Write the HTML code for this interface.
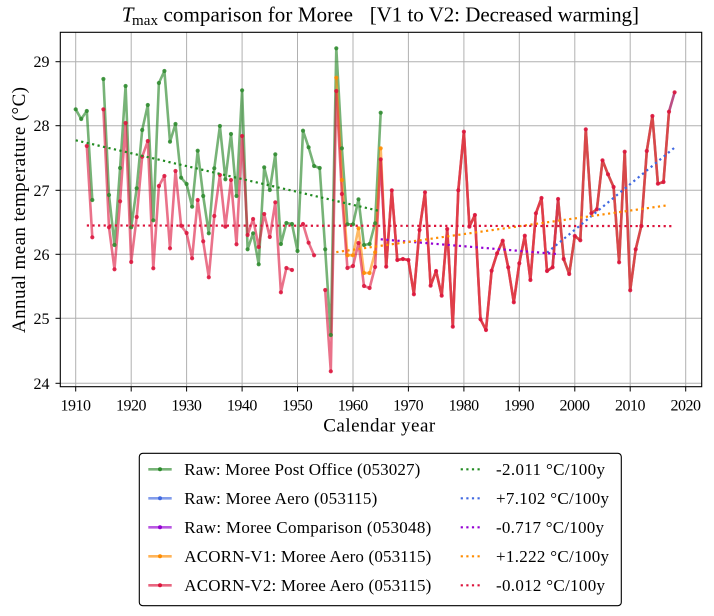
<!DOCTYPE html>
<html><head><meta charset="utf-8"><style>
html,body{margin:0;padding:0;background:#fff;}
svg{display:block;}
text{font-family:"Liberation Serif","DejaVu Serif",serif;fill:#000;}
</style></head><body>
<svg width="714" height="616" viewBox="0 0 714 616" xmlns="http://www.w3.org/2000/svg">
<rect width="714" height="616" fill="#fff"/>
<!-- grid -->
<g stroke="#b0b0b0" stroke-width="1">
<line x1="75.7" y1="32.3" x2="75.7" y2="386.7"/>
<line x1="131.2" y1="32.3" x2="131.2" y2="386.7"/>
<line x1="186.6" y1="32.3" x2="186.6" y2="386.7"/>
<line x1="242.1" y1="32.3" x2="242.1" y2="386.7"/>
<line x1="297.5" y1="32.3" x2="297.5" y2="386.7"/>
<line x1="353" y1="32.3" x2="353" y2="386.7"/>
<line x1="408.4" y1="32.3" x2="408.4" y2="386.7"/>
<line x1="463.9" y1="32.3" x2="463.9" y2="386.7"/>
<line x1="519.3" y1="32.3" x2="519.3" y2="386.7"/>
<line x1="574.8" y1="32.3" x2="574.8" y2="386.7"/>
<line x1="630.2" y1="32.3" x2="630.2" y2="386.7"/>
<line x1="685.7" y1="32.3" x2="685.7" y2="386.7"/>
<line x1="60.3" y1="61.7" x2="701.7" y2="61.7"/>
<line x1="60.3" y1="125.7" x2="701.7" y2="125.7"/>
<line x1="60.3" y1="190.3" x2="701.7" y2="190.3"/>
<line x1="60.3" y1="254.3" x2="701.7" y2="254.3"/>
<line x1="60.3" y1="318.3" x2="701.7" y2="318.3"/>
<line x1="60.3" y1="383.3" x2="701.7" y2="383.3"/>
</g>

<!-- series -->
<g fill="none" stroke-width="2.6" stroke-linejoin="round" stroke-linecap="round">
<g stroke="#2e8b2e" stroke-opacity="0.65">
<polyline points="75.7,109.3 81.2,119 86.8,111 92.3,200"/>
<polyline points="103.4,79 109,195 114.5,245 120.1,168 125.6,86 131.2,227.3 136.7,188.3 142.2,130 147.8,105 153.3,220.3 158.9,83 164.4,71 170,141.7 175.5,124 181.1,177.7 186.6,184 192.1,206.7 197.7,150.7 203.2,196 208.8,233.3 214.3,168.3 219.9,126 225.4,179.3 231,134 236.5,196 242.1,90.3 247.6,249.3 253.1,233.3 258.7,264.3 264.2,167.3 269.8,190 275.3,154.3 280.9,244 286.4,223 292,224 297.5,251 303,130.7 308.6,147.3 314.1,166 319.7,168 325.2,249.3 330.8,335 336.3,48.3 341.9,148.3 347.4,224.3 353,224.3 358.5,199.3 364,245 369.6,244 375.1,223.3 380.7,112.7"/>
</g>
<polyline stroke="#4169e1" stroke-opacity="0.6" points="547,271 552.6,267.3 558.1,199 563.7,259 569.2,274 574.8,236 580.3,240.3 585.8,129.3 591.4,213.3 596.9,209.3 602.5,160.3 608,174.3 613.6,187 619.1,262.3 624.7,151.7 630.2,290.3 635.7,249.3 641.3,226 646.8,151 652.4,116 657.9,183.7 663.5,182 669,111.7 674.6,92.3"/>
<polyline stroke="#9400d3" stroke-opacity="0.6" points="380.7,159.3 386.2,266.7 391.8,190.3 397.3,260 402.9,259 408.4,260 413.9,294.3 419.5,230 425,192.3 430.6,285.7 436.1,271 441.7,295.7 447.2,229 452.8,326.7 458.3,190.3 463.9,131.7 469.4,226.7 474.9,215 480.5,319.3 486,330 491.6,270.7 497.1,253.3 502.7,240.7 508.2,267.3 513.8,302.3 519.3,263.3 524.8,235.7 530.4,280 535.9,213.3 541.5,198 547,271 552.6,267.3 558.1,199"/>
<polyline stroke="#ff8c00" stroke-opacity="0.6" points="336.3,77.7 341.9,180 347.4,255.3 353,255.3 358.5,228.3 364,273 369.6,273 375.1,252.3 380.7,148.3 386.2,266.7 391.8,190.3 397.3,260 402.9,259 408.4,260 413.9,294.3 419.5,230 425,192.3 430.6,285.7 436.1,271 441.7,295.7 447.2,229 452.8,326.7 458.3,190.3 463.9,131.7 469.4,226.7 474.9,215 480.5,319.3 486,330 491.6,270.7 497.1,253.3 502.7,240.7 508.2,267.3 513.8,302.3 519.3,263.3 524.8,235.7 530.4,280 535.9,213.3 541.5,198 547,271 552.6,267.3 558.1,199 563.7,259 569.2,274 574.8,236 580.3,240.3 585.8,129.3 591.4,213.3 596.9,209.3 602.5,160.3 608,174.3 613.6,187 619.1,262.3 624.7,151.7 630.2,290.3 635.7,249.3 641.3,226 646.8,151 652.4,116 657.9,183.7 663.5,182 669,111.7"/>
<g stroke="#dc143c" stroke-opacity="0.6">
<polyline points="86.8,146 92.3,237.3"/>
<polyline points="103.4,109.3 109,227.3 114.5,269.3 120.1,201.3 125.6,123 131.2,262 136.7,217 142.2,156.7 147.8,141 153.3,268.3 158.9,186 164.4,176 170,248.3 175.5,171 181.1,225.7 186.6,233 192.1,258.3 197.7,200 203.2,241.3 208.8,277.3 214.3,216 219.9,175 225.4,226.7 231,180 236.5,244.3 242.1,136 247.6,235 253.1,219 258.7,247 264.2,214 269.8,237 275.3,202.3 280.9,292.3 286.4,268 292,270"/>
<polyline points="303,224 308.6,242.7 314.1,255.3"/>
<polyline points="325.2,290 330.8,371.3 336.3,91 341.9,194 347.4,268 353,266 358.5,243 364,286 369.6,288 375.1,267 380.7,159.3 386.2,266.7 391.8,190.3 397.3,260 402.9,259 408.4,260 413.9,294.3 419.5,230 425,192.3 430.6,285.7 436.1,271 441.7,295.7 447.2,229 452.8,326.7 458.3,190.3 463.9,131.7 469.4,226.7 474.9,215 480.5,319.3 486,330 491.6,270.7 497.1,253.3 502.7,240.7 508.2,267.3 513.8,302.3 519.3,263.3 524.8,235.7 530.4,280 535.9,213.3 541.5,198 547,271 552.6,267.3 558.1,199 563.7,259 569.2,274 574.8,236 580.3,240.3 585.8,129.3 591.4,213.3 596.9,209.3 602.5,160.3 608,174.3 613.6,187 619.1,262.3 624.7,151.7 630.2,290.3 635.7,249.3 641.3,226 646.8,151 652.4,116 657.9,183.7 663.5,182 669,111.7 674.6,92.3"/>
</g>
</g>

<!-- markers -->
<g fill="#2e8b2e" fill-opacity="0.85">
<circle cx="75.7" cy="109.3" r="2.1"/><circle cx="81.2" cy="119" r="2.1"/><circle cx="86.8" cy="111" r="2.1"/><circle cx="92.3" cy="200" r="2.1"/>
<circle cx="103.4" cy="79" r="2.1"/><circle cx="109" cy="195" r="2.1"/><circle cx="114.5" cy="245" r="2.1"/><circle cx="120.1" cy="168" r="2.1"/><circle cx="125.6" cy="86" r="2.1"/><circle cx="131.2" cy="227.3" r="2.1"/><circle cx="136.7" cy="188.3" r="2.1"/><circle cx="142.2" cy="130" r="2.1"/><circle cx="147.8" cy="105" r="2.1"/><circle cx="153.3" cy="220.3" r="2.1"/><circle cx="158.9" cy="83" r="2.1"/><circle cx="164.4" cy="71" r="2.1"/><circle cx="170" cy="141.7" r="2.1"/><circle cx="175.5" cy="124" r="2.1"/><circle cx="181.1" cy="177.7" r="2.1"/><circle cx="186.6" cy="184" r="2.1"/><circle cx="192.1" cy="206.7" r="2.1"/><circle cx="197.7" cy="150.7" r="2.1"/><circle cx="203.2" cy="196" r="2.1"/><circle cx="208.8" cy="233.3" r="2.1"/><circle cx="214.3" cy="168.3" r="2.1"/><circle cx="219.9" cy="126" r="2.1"/><circle cx="225.4" cy="179.3" r="2.1"/><circle cx="231" cy="134" r="2.1"/><circle cx="236.5" cy="196" r="2.1"/><circle cx="242.1" cy="90.3" r="2.1"/><circle cx="247.6" cy="249.3" r="2.1"/><circle cx="253.1" cy="233.3" r="2.1"/><circle cx="258.7" cy="264.3" r="2.1"/><circle cx="264.2" cy="167.3" r="2.1"/><circle cx="269.8" cy="190" r="2.1"/><circle cx="275.3" cy="154.3" r="2.1"/><circle cx="280.9" cy="244" r="2.1"/><circle cx="286.4" cy="223" r="2.1"/><circle cx="292" cy="224" r="2.1"/><circle cx="297.5" cy="251" r="2.1"/><circle cx="303" cy="130.7" r="2.1"/><circle cx="308.6" cy="147.3" r="2.1"/><circle cx="314.1" cy="166" r="2.1"/><circle cx="319.7" cy="168" r="2.1"/><circle cx="325.2" cy="249.3" r="2.1"/><circle cx="330.8" cy="335" r="2.1"/><circle cx="336.3" cy="48.3" r="2.1"/><circle cx="341.9" cy="148.3" r="2.1"/><circle cx="347.4" cy="224.3" r="2.1"/><circle cx="353" cy="224.3" r="2.1"/><circle cx="358.5" cy="199.3" r="2.1"/><circle cx="364" cy="245" r="2.1"/><circle cx="369.6" cy="244" r="2.1"/><circle cx="375.1" cy="223.3" r="2.1"/><circle cx="380.7" cy="112.7" r="2.1"/>
</g>
<g fill="#ff8c00" fill-opacity="0.85">
<circle cx="336.3" cy="77.7" r="2.1"/><circle cx="341.9" cy="180" r="2.1"/><circle cx="347.4" cy="255.3" r="2.1"/><circle cx="353" cy="255.3" r="2.1"/><circle cx="358.5" cy="228.3" r="2.1"/><circle cx="364" cy="273" r="2.1"/><circle cx="369.6" cy="273" r="2.1"/><circle cx="375.1" cy="252.3" r="2.1"/><circle cx="380.7" cy="148.3" r="2.1"/>
</g>
<g fill="#dc143c" fill-opacity="0.85">
<circle cx="86.8" cy="146" r="2.1"/><circle cx="92.3" cy="237.3" r="2.1"/>
<circle cx="103.4" cy="109.3" r="2.1"/><circle cx="109" cy="227.3" r="2.1"/><circle cx="114.5" cy="269.3" r="2.1"/><circle cx="120.1" cy="201.3" r="2.1"/><circle cx="125.6" cy="123" r="2.1"/><circle cx="131.2" cy="262" r="2.1"/><circle cx="136.7" cy="217" r="2.1"/><circle cx="142.2" cy="156.7" r="2.1"/><circle cx="147.8" cy="141" r="2.1"/><circle cx="153.3" cy="268.3" r="2.1"/><circle cx="158.9" cy="186" r="2.1"/><circle cx="164.4" cy="176" r="2.1"/><circle cx="170" cy="248.3" r="2.1"/><circle cx="175.5" cy="171" r="2.1"/><circle cx="181.1" cy="225.7" r="2.1"/><circle cx="186.6" cy="233" r="2.1"/><circle cx="192.1" cy="258.3" r="2.1"/><circle cx="197.7" cy="200" r="2.1"/><circle cx="203.2" cy="241.3" r="2.1"/><circle cx="208.8" cy="277.3" r="2.1"/><circle cx="214.3" cy="216" r="2.1"/><circle cx="219.9" cy="175" r="2.1"/><circle cx="225.4" cy="226.7" r="2.1"/><circle cx="231" cy="180" r="2.1"/><circle cx="236.5" cy="244.3" r="2.1"/><circle cx="242.1" cy="136" r="2.1"/><circle cx="247.6" cy="235" r="2.1"/><circle cx="253.1" cy="219" r="2.1"/><circle cx="258.7" cy="247" r="2.1"/><circle cx="264.2" cy="214" r="2.1"/><circle cx="269.8" cy="237" r="2.1"/><circle cx="275.3" cy="202.3" r="2.1"/><circle cx="280.9" cy="292.3" r="2.1"/><circle cx="286.4" cy="268" r="2.1"/><circle cx="292" cy="270" r="2.1"/>
<circle cx="303" cy="224" r="2.1"/><circle cx="308.6" cy="242.7" r="2.1"/><circle cx="314.1" cy="255.3" r="2.1"/>
<circle cx="325.2" cy="290" r="2.1"/><circle cx="330.8" cy="371.3" r="2.1"/><circle cx="336.3" cy="91" r="2.1"/><circle cx="341.9" cy="194" r="2.1"/><circle cx="347.4" cy="268" r="2.1"/><circle cx="353" cy="266" r="2.1"/><circle cx="358.5" cy="243" r="2.1"/><circle cx="364" cy="286" r="2.1"/><circle cx="369.6" cy="288" r="2.1"/><circle cx="375.1" cy="267" r="2.1"/><circle cx="380.7" cy="159.3" r="2.1"/><circle cx="386.2" cy="266.7" r="2.1"/><circle cx="391.8" cy="190.3" r="2.1"/><circle cx="397.3" cy="260" r="2.1"/><circle cx="402.9" cy="259" r="2.1"/><circle cx="408.4" cy="260" r="2.1"/><circle cx="413.9" cy="294.3" r="2.1"/><circle cx="419.5" cy="230" r="2.1"/><circle cx="425" cy="192.3" r="2.1"/><circle cx="430.6" cy="285.7" r="2.1"/><circle cx="436.1" cy="271" r="2.1"/><circle cx="441.7" cy="295.7" r="2.1"/><circle cx="447.2" cy="229" r="2.1"/><circle cx="452.8" cy="326.7" r="2.1"/><circle cx="458.3" cy="190.3" r="2.1"/><circle cx="463.9" cy="131.7" r="2.1"/><circle cx="469.4" cy="226.7" r="2.1"/><circle cx="474.9" cy="215" r="2.1"/><circle cx="480.5" cy="319.3" r="2.1"/><circle cx="486" cy="330" r="2.1"/><circle cx="491.6" cy="270.7" r="2.1"/><circle cx="497.1" cy="253.3" r="2.1"/><circle cx="502.7" cy="240.7" r="2.1"/><circle cx="508.2" cy="267.3" r="2.1"/><circle cx="513.8" cy="302.3" r="2.1"/><circle cx="519.3" cy="263.3" r="2.1"/><circle cx="524.8" cy="235.7" r="2.1"/><circle cx="530.4" cy="280" r="2.1"/><circle cx="535.9" cy="213.3" r="2.1"/><circle cx="541.5" cy="198" r="2.1"/><circle cx="547" cy="271" r="2.1"/><circle cx="552.6" cy="267.3" r="2.1"/><circle cx="558.1" cy="199" r="2.1"/><circle cx="563.7" cy="259" r="2.1"/><circle cx="569.2" cy="274" r="2.1"/><circle cx="574.8" cy="236" r="2.1"/><circle cx="580.3" cy="240.3" r="2.1"/><circle cx="585.8" cy="129.3" r="2.1"/><circle cx="591.4" cy="213.3" r="2.1"/><circle cx="596.9" cy="209.3" r="2.1"/><circle cx="602.5" cy="160.3" r="2.1"/><circle cx="608" cy="174.3" r="2.1"/><circle cx="613.6" cy="187" r="2.1"/><circle cx="619.1" cy="262.3" r="2.1"/><circle cx="624.7" cy="151.7" r="2.1"/><circle cx="630.2" cy="290.3" r="2.1"/><circle cx="635.7" cy="249.3" r="2.1"/><circle cx="641.3" cy="226" r="2.1"/><circle cx="646.8" cy="151" r="2.1"/><circle cx="652.4" cy="116" r="2.1"/><circle cx="657.9" cy="183.7" r="2.1"/><circle cx="663.5" cy="182" r="2.1"/><circle cx="669" cy="111.7" r="2.1"/><circle cx="674.6" cy="92.3" r="2.1"/>
</g>

<!-- trend lines -->
<g stroke-width="2.2" stroke-dasharray="2.2 3.4" fill="none">
<line x1="75.7" y1="140.3" x2="380.7" y2="211.3" stroke="#228b22"/>
<line x1="547" y1="252.7" x2="674.6" y2="147.6" stroke="#4169e1"/>
<line x1="380.7" y1="239.3" x2="558.1" y2="254.1" stroke="#9400d3"/>
<line x1="336.3" y1="252.1" x2="669" y2="205.1" stroke="#ff8c00"/>
<line x1="86.8" y1="225.5" x2="674.6" y2="226.1" stroke="#dc143c"/>
</g>

<!-- frame -->
<rect x="60.3" y="32.3" width="641.4" height="354.4" fill="none" stroke="#000" stroke-width="1.1"/>
<g stroke="#000" stroke-width="1">
<line x1="75.7" y1="386.7" x2="75.7" y2="391.5"/>
<line x1="131.2" y1="386.7" x2="131.2" y2="391.5"/>
<line x1="186.6" y1="386.7" x2="186.6" y2="391.5"/>
<line x1="242.1" y1="386.7" x2="242.1" y2="391.5"/>
<line x1="297.5" y1="386.7" x2="297.5" y2="391.5"/>
<line x1="353" y1="386.7" x2="353" y2="391.5"/>
<line x1="408.4" y1="386.7" x2="408.4" y2="391.5"/>
<line x1="463.9" y1="386.7" x2="463.9" y2="391.5"/>
<line x1="519.3" y1="386.7" x2="519.3" y2="391.5"/>
<line x1="574.8" y1="386.7" x2="574.8" y2="391.5"/>
<line x1="630.2" y1="386.7" x2="630.2" y2="391.5"/>
<line x1="685.7" y1="386.7" x2="685.7" y2="391.5"/>
<line x1="55.5" y1="61.7" x2="60.3" y2="61.7"/>
<line x1="55.5" y1="125.7" x2="60.3" y2="125.7"/>
<line x1="55.5" y1="190.3" x2="60.3" y2="190.3"/>
<line x1="55.5" y1="254.3" x2="60.3" y2="254.3"/>
<line x1="55.5" y1="318.3" x2="60.3" y2="318.3"/>
<line x1="55.5" y1="383.3" x2="60.3" y2="383.3"/>
</g>
<g font-size="16" text-anchor="middle">
<text x="75.7" y="410.5" textLength="30.5">1910</text>
<text x="131.2" y="410.5" textLength="30.5">1920</text>
<text x="186.6" y="410.5" textLength="30.5">1930</text>
<text x="242.1" y="410.5" textLength="30.5">1940</text>
<text x="297.5" y="410.5" textLength="30.5">1950</text>
<text x="353" y="410.5" textLength="30.5">1960</text>
<text x="408.4" y="410.5" textLength="30.5">1970</text>
<text x="463.9" y="410.5" textLength="30.5">1980</text>
<text x="519.3" y="410.5" textLength="30.5">1990</text>
<text x="574.8" y="410.5" textLength="30.5">2000</text>
<text x="630.2" y="410.5" textLength="30.5">2010</text>
<text x="685.7" y="410.5" textLength="30.5">2020</text>
</g>
<g font-size="16" text-anchor="end">
<text x="49.5" y="67.2">29</text>
<text x="49.5" y="131.2">28</text>
<text x="49.5" y="195.8">27</text>
<text x="49.5" y="259.8">26</text>
<text x="49.5" y="323.8">25</text>
<text x="49.5" y="388.8">24</text>
</g>
<text x="379.2" y="431.7" font-size="19" text-anchor="middle" textLength="112">Calendar year</text>
<text transform="translate(25,210) rotate(-90)" font-size="19" text-anchor="middle" textLength="246">Annual mean temperature (°C)</text>
<text x="121.7" y="21.7" font-size="21" font-style="italic">T</text>
<text x="132" y="25" font-size="15" textLength="26">max</text>
<text x="163.5" y="21.7" font-size="21" textLength="189.5">comparison for Moree</text>
<text x="369.7" y="21.7" font-size="21" textLength="269.3">[V1 to V2: Decreased warming]</text>

<!-- legend -->
<rect x="139.3" y="453.3" width="482" height="152.4" rx="3.5" ry="3.5" fill="#fff" stroke="#000" stroke-width="1.1"/>
<g stroke-width="2.6" fill="none">
<line x1="148.3" y1="469.3" x2="171.7" y2="469.3" stroke="#2e8b2e" stroke-opacity="0.65"/>
<line x1="148.3" y1="498.3" x2="171.7" y2="498.3" stroke="#4169e1" stroke-opacity="0.65"/>
<line x1="148.3" y1="527.3" x2="171.7" y2="527.3" stroke="#9400d3" stroke-opacity="0.65"/>
<line x1="148.3" y1="556.3" x2="171.7" y2="556.3" stroke="#ff8c00" stroke-opacity="0.65"/>
<line x1="148.3" y1="585.3" x2="171.7" y2="585.3" stroke="#dc143c" stroke-opacity="0.65"/>
</g>
<circle cx="160" cy="469.3" r="2" fill="#2e8b2e"/>
<circle cx="160" cy="498.3" r="2" fill="#4169e1"/>
<circle cx="160" cy="527.3" r="2" fill="#9400d3"/>
<circle cx="160" cy="556.3" r="2" fill="#ff8c00"/>
<circle cx="160" cy="585.3" r="2" fill="#dc143c"/>
<g stroke-width="2.2" stroke-dasharray="2.2 3.4" fill="none">
<line x1="460.7" y1="469.3" x2="482.7" y2="469.3" stroke="#228b22"/>
<line x1="460.7" y1="498.3" x2="482.7" y2="498.3" stroke="#4169e1"/>
<line x1="460.7" y1="527.3" x2="482.7" y2="527.3" stroke="#9400d3"/>
<line x1="460.7" y1="556.3" x2="482.7" y2="556.3" stroke="#ff8c00"/>
<line x1="460.7" y1="585.3" x2="482.7" y2="585.3" stroke="#dc143c"/>
</g>
<g font-size="17">
<text x="184.3" y="475" textLength="236">Raw: Moree Post Office (053027)</text>
<text x="184.3" y="504" textLength="193">Raw: Moree Aero (053115)</text>
<text x="184.3" y="533" textLength="247">Raw: Moree Comparison (053048)</text>
<text x="184.3" y="562" textLength="247">ACORN-V1: Moree Aero (053115)</text>
<text x="184.3" y="591" textLength="247">ACORN-V2: Moree Aero (053115)</text>
<text x="496" y="475" textLength="109">-2.011 °C/100y</text>
<text x="496" y="504" textLength="113">+7.102 °C/100y</text>
<text x="496" y="533" textLength="108">-0.717 °C/100y</text>
<text x="496" y="562" textLength="113">+1.222 °C/100y</text>
<text x="496" y="591" textLength="109">-0.012 °C/100y</text>
</g>
</svg>
</body></html>
